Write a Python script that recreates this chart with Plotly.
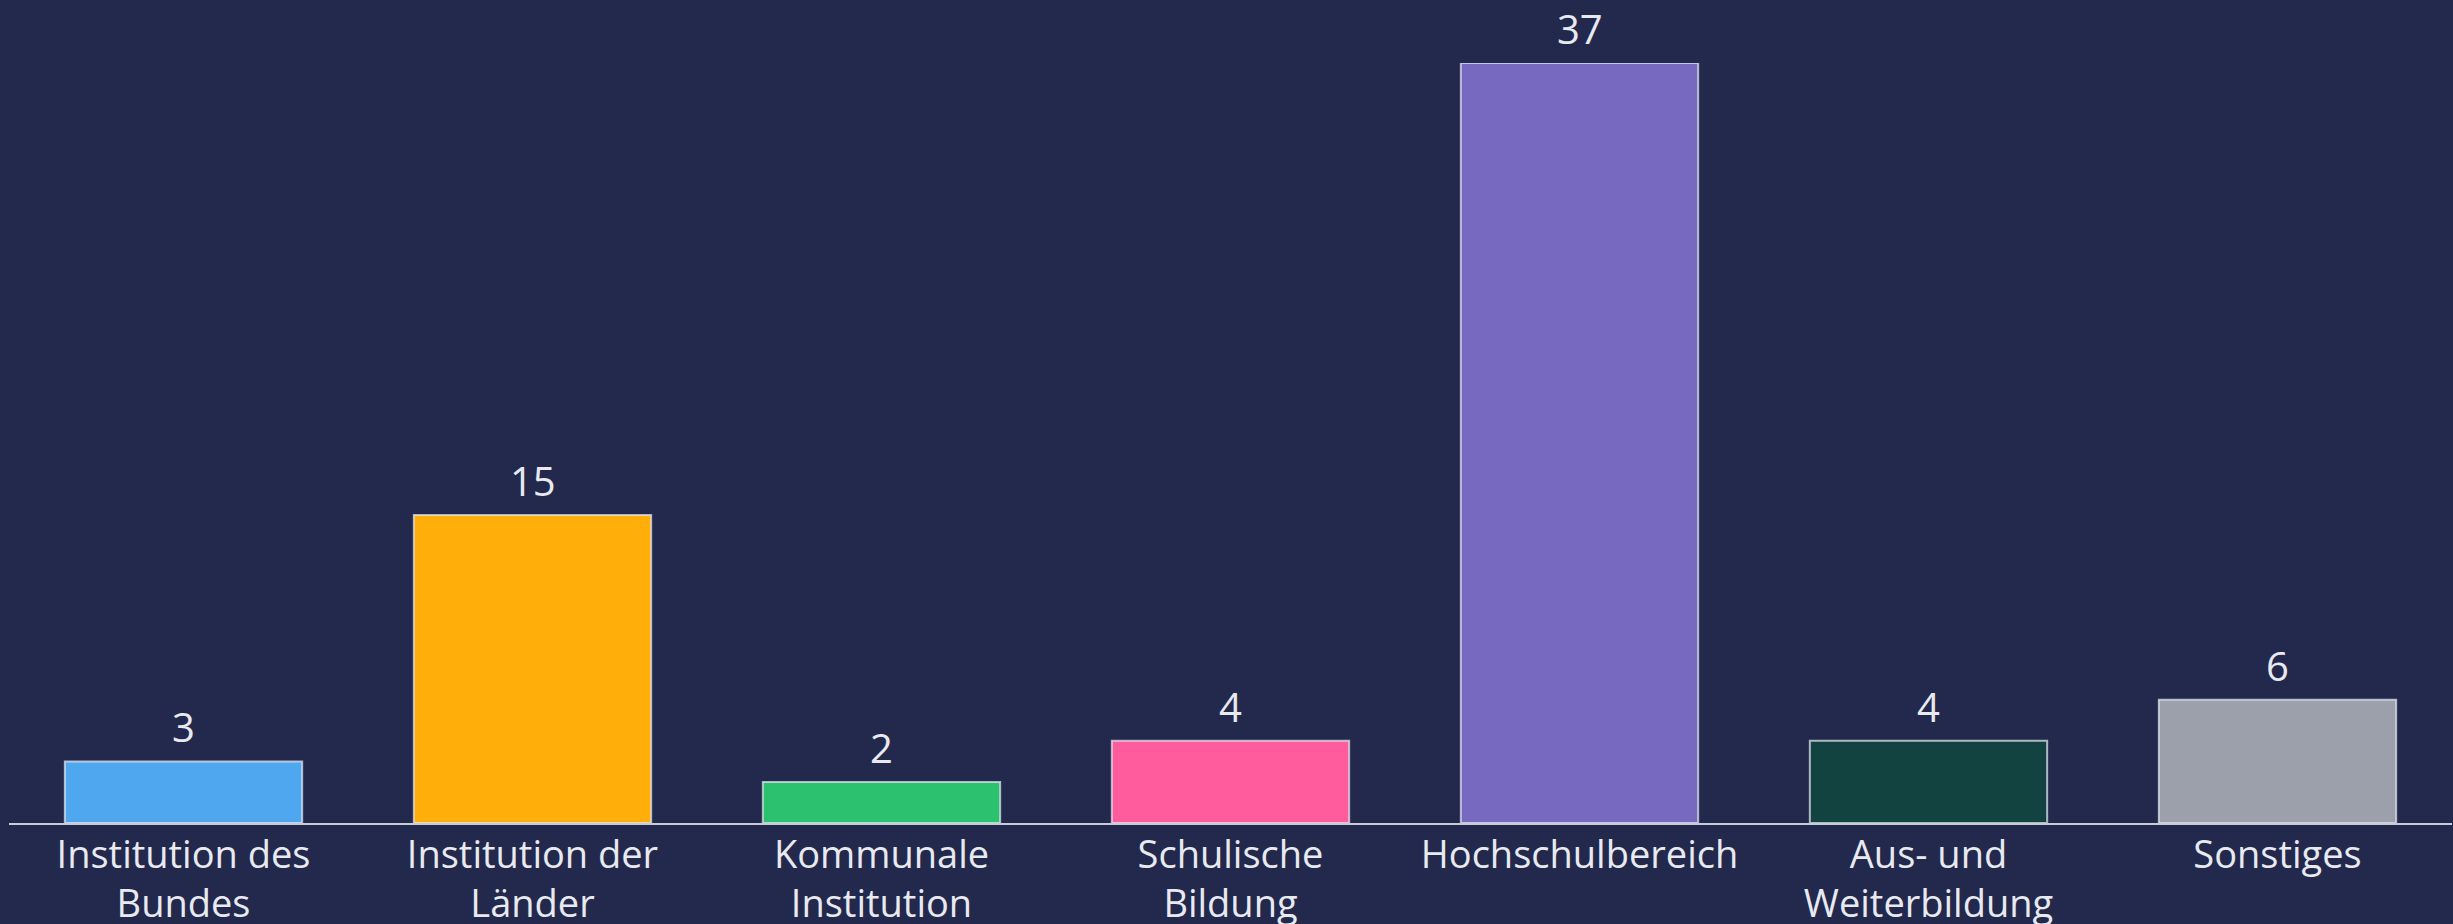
import plotly.graph_objects as go

categories = ["Institution des<br>Bundes", "Institution der<br>Länder", "Kommunale<br>Institution",
              "Schulische<br>Bildung", "Hochschulbereich", "Aus- und<br>Weiterbildung", "Sonstiges"]
values = [3, 15, 2, 4, 37, 4, 6]
colors = ["#4FA8EF", "#FFAE0A", "#2BC16E", "#FF5C9E", "#7869C0", "#124341", "#9CA0AB"]

bg = "#22294D"
FONT = "Open Sans"
fig = go.Figure()
fig.add_trace(go.Bar(
    x=categories, y=values,
    marker=dict(color=colors, line=dict(color="rgba(225,228,240,0.75)", width=2)),
    cliponaxis=False, hoverinfo="skip",
))
for c, v in zip(categories, values):
    fig.add_annotation(x=c, y=v, text=str(v), showarrow=False, yanchor="bottom",
                       yshift=5, font=dict(size=40, color="#E8EAF0", family=FONT))
fig.update_layout(
    width=2453, height=924,
    paper_bgcolor=bg, plot_bgcolor=bg,
    margin=dict(l=9, r=1, t=63, b=101, autoexpand=False),
    bargap=0.32,
    showlegend=False,
    font=dict(family=FONT, color="#E8EAF0"),
)
fig.update_xaxes(showline=True, linecolor="#C8CCD8", linewidth=2, showgrid=False, automargin=False,
                 tickfont=dict(size=38, color="#E8EAF0", family=FONT), ticks="", ticklen=0,
                 ticklabelstandoff=-3)
fig.update_yaxes(range=[0, 37], visible=False, showgrid=False, zeroline=False, automargin=False)
fig.write_html("out.html", config={"displayModeBar": False},
               post_script="document.body.style.margin='0';document.body.style.background='#22294D';document.body.style.overflow='hidden';")
